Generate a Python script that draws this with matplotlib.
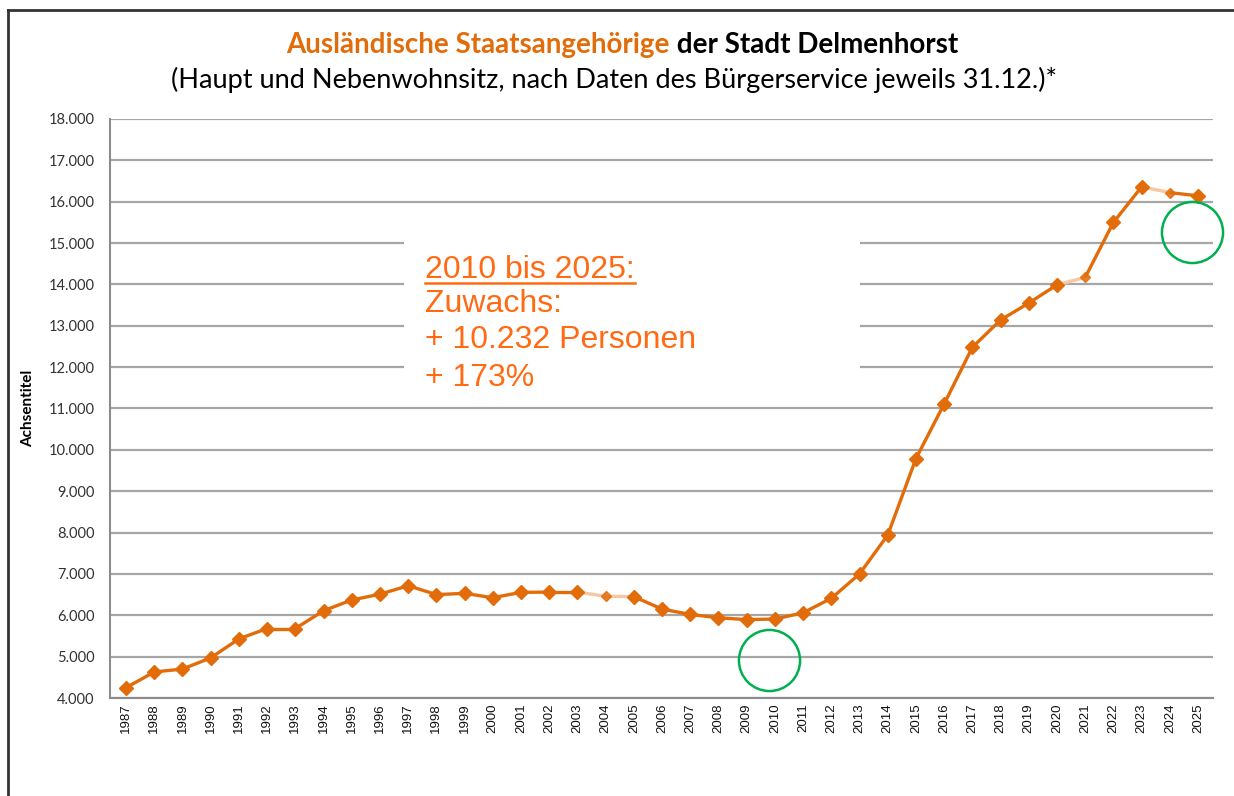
import matplotlib
matplotlib.use("Agg")
import matplotlib.pyplot as plt
from matplotlib.lines import Line2D
from matplotlib.patches import Rectangle

# ---- data ----
years = list(range(1987, 2026))
values = [4250, 4630, 4700, 4970, 5430, 5680, 5680, 6110, 6370, 6510,
          6715, 6500, 6530, 6425, 6555, 6560, 6560, 6460, 6450, 6150,
          6020, 5940, 5895, 5910, 6060, 6410, 7000, 7940, 9790, 11110,
          12480, 13140, 13550, 13990, 14170, 15500, 16360, 16220, 16142]
light_years = [2004, 2005, 2021, 2024]      # incoming segment drawn light
small_marker_years = [2004, 2021, 2024]
circle_years = [2009.8, 2024.8]
circle_values = [4920, 15270]
yticks = list(range(4000, 18001, 1000))
ytick_labels = [f"{v:,}".replace(",", ".") for v in yticks]

title_orange = "Ausländische Staatsangehörige"
title_black = " der Stadt Delmenhorst"
subtitle = "(Haupt und Nebenwohnsitz, nach Daten des Bürgerservice jeweils 31.12.)*"
note_lines = ["2010 bis 2025:", "Zuwachs:", "+ 10.232 Personen", "+ 173%"]

DARK = "#E36C0A"
LIGHT = "#F7C7A2"
NOTE = "#FF6A13"
GREEN = "#00B050"

plt.rcParams['font.family'] = ['Lato', 'DejaVu Sans']

fig = plt.figure(figsize=(12.34, 7.96), dpi=100)
ax = fig.add_axes([110/1234, 1-698/796, (1213-110)/1234, (698-119)/796])

ax.set_xlim(1986.43, 2025.53)
ax.set_ylim(4000, 18000)
ax.set_yticks(yticks)
ax.set_yticklabels(ytick_labels)
ax.set_xticks(years)
ax.set_xticklabels([str(y) for y in years], rotation=90,
                   family=['Liberation Sans'], fontsize=9.5)
ax.tick_params(axis='y', length=0, pad=11, labelsize=10.5, labelcolor='#333333')
ax.tick_params(axis='x', length=0, pad=4, labelcolor='#111111')
ax.set_axisbelow(True)
ax.yaxis.grid(True, color='#A6A6A6', lw=1.6)
for s in ['top', 'right']:
    ax.spines[s].set_visible(False)
for s in ['left', 'bottom']:
    ax.spines[s].set_color('#8C8C8C')
    ax.spines[s].set_linewidth(1.5)

# white box hiding gridlines behind the note
ax.add_patch(Rectangle((1996.85, 11500), 2013.02 - 1996.85, 4000,
                       facecolor='white', edgecolor='none', zorder=1))

# line segments
for i in range(1, len(years)):
    c = LIGHT if years[i] in light_years else DARK
    ax.plot(years[i-1:i+1], values[i-1:i+1], color=c, lw=2.4,
            solid_capstyle='butt', zorder=3)
big_x = [y for y in years if y not in small_marker_years]
big_v = [v for y, v in zip(years, values) if y not in small_marker_years]
sm_x = [y for y in years if y in small_marker_years]
sm_v = [v for y, v in zip(years, values) if y in small_marker_years]
ax.plot(big_x, big_v, 'D', color=DARK, ms=7.5, zorder=4, clip_on=False)
ax.plot(sm_x, sm_v, 'D', color=DARK, ms=5.5, zorder=4, alpha=0.85)

# green circles
ax.plot(circle_years, circle_values, 'o', ms=44, mfc='none', mec=GREEN,
        mew=1.8, zorder=5, clip_on=False)

# axis title
ax.set_ylabel("Achsentitel", fontsize=11, fontweight='bold')
ax.yaxis.set_label_coords((35 - 110) / 1103, 0.5)

# note text
note_y_px = [270, 304, 340, 378]
note_objs = []
for txt, ypx in zip(note_lines, note_y_px):
    t = fig.text(425/1234, 1-ypx/796, txt, color=NOTE, fontsize=23,
                 family=['Liberation Sans'], ha='left', va='center')
    note_objs.append(t)

# titles
t1 = fig.text(0, 1-45/796, title_orange, color=DARK, fontsize=20,
              fontweight='bold', ha='left', va='center')
t2 = fig.text(0, 1-45/796, title_black, color='black', fontsize=20,
              fontweight='bold', ha='left', va='center')
fig.text(614/1234, 1-80/796, subtitle, color='black', fontsize=19.5,
         ha='center', va='center')

fig.canvas.draw()
r = fig.canvas.get_renderer()
w1 = t1.get_window_extent(r).width
w2 = t2.get_window_extent(r).width
x0 = 622 - (w1 + w2) / 2
t1.set_x(x0 / 1234)
t2.set_x((x0 + w1) / 1234)

# underline first note line
bb = note_objs[0].get_window_extent(r)
fig.add_artist(Line2D([bb.x0 / 1234, bb.x1 / 1234],
                      [(bb.y0 + 2) / 796, (bb.y0 + 2) / 796],
                      color=NOTE, lw=1.8, transform=fig.transFigure))

# outer frame
fx, fy = 8/1234, 1-10/796
fig.add_artist(Line2D([fx, fx], [0, fy], color='#333333', lw=2,
                      transform=fig.transFigure))
fig.add_artist(Line2D([fx, 1], [fy, fy], color='#333333', lw=2,
                      transform=fig.transFigure))

fig.savefig("out.png", dpi=100, facecolor='white')
